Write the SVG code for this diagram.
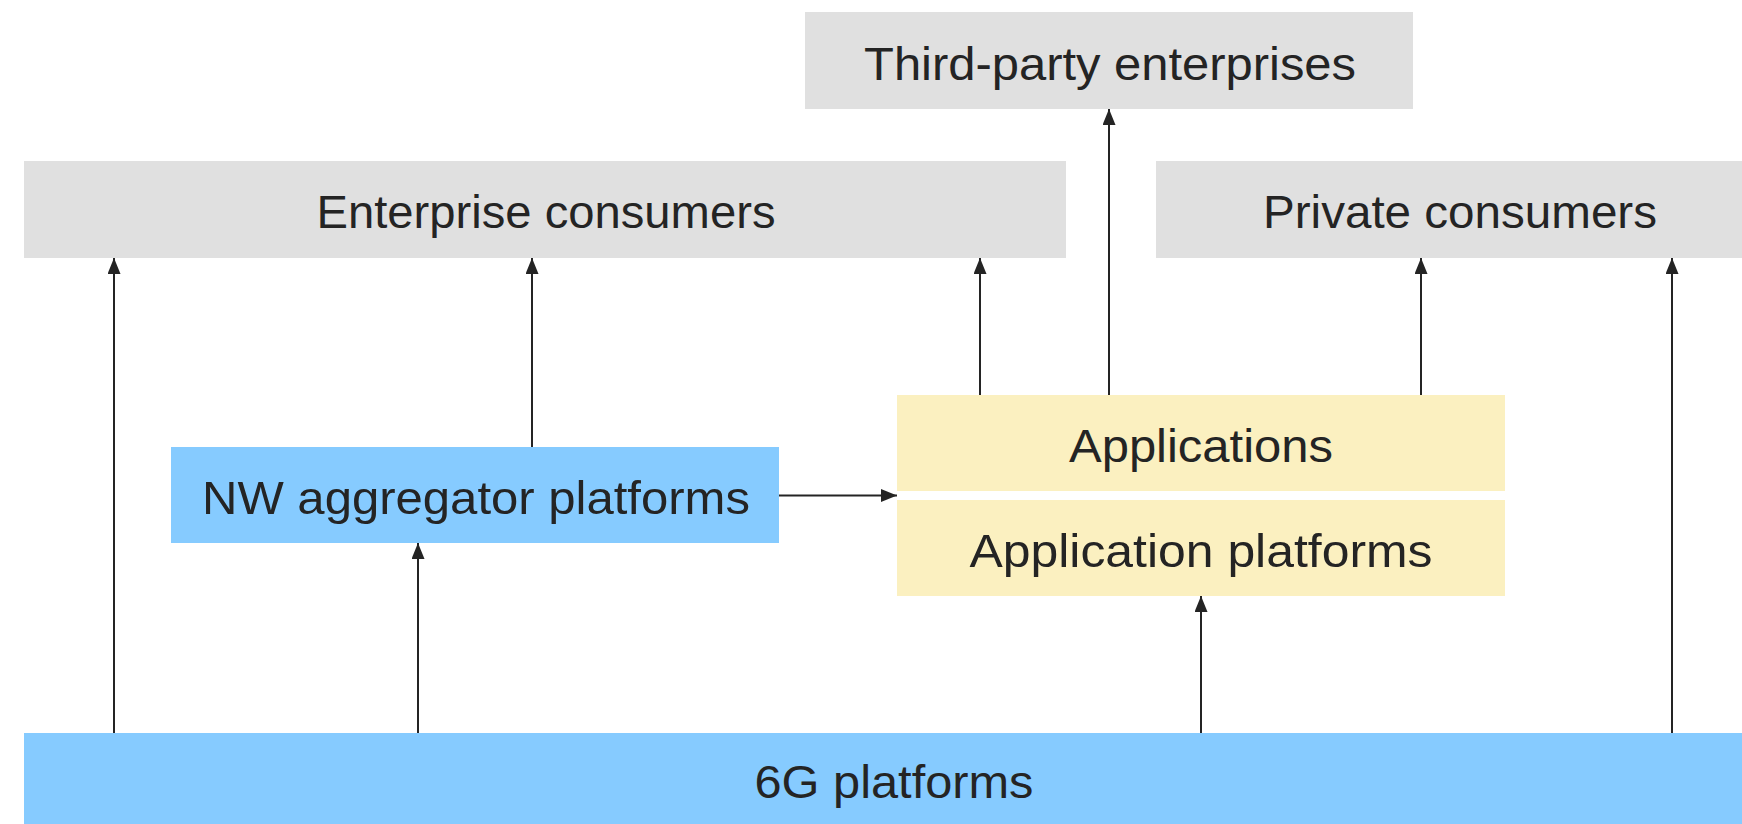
<svg xmlns="http://www.w3.org/2000/svg" width="1742" height="824" viewBox="0 0 1742 824">
  <style>
    .gray { fill: #e0e0e0; }
    .blue { fill: #86cbff; }
    .yellow { fill: #fbf0c0; }
    .lbl { font-family: "Liberation Sans", Arial, sans-serif; font-size: 47px; fill: #242424; text-anchor: middle; }
    .conn { stroke: #242424; stroke-width: 2; fill: none; marker-end: url(#arrow); }
  </style>
  <defs>
    <marker id="arrow" markerUnits="userSpaceOnUse" markerWidth="16" markerHeight="13" viewBox="0 0 16 13" refX="16" refY="6.5" orient="auto">
      <path d="M0,0 L16,6.5 L0,13 z" fill="#242424"/>
    </marker>
  </defs>
  <rect width="1742" height="824" fill="#ffffff"/>

  <g id="third-party">
    <rect class="gray" x="805" y="12" width="608" height="97"/>
    <text class="lbl" x="1110" y="80" textLength="492" lengthAdjust="spacingAndGlyphs">Third-party enterprises</text>
  </g>
  <g id="enterprise-consumers">
    <rect class="gray" x="24" y="161" width="1042" height="97"/>
    <text class="lbl" x="546" y="228" textLength="459" lengthAdjust="spacingAndGlyphs">Enterprise consumers</text>
  </g>
  <g id="private-consumers">
    <rect class="gray" x="1156" y="161" width="608" height="97"/>
    <text class="lbl" x="1460" y="228" textLength="394" lengthAdjust="spacingAndGlyphs">Private consumers</text>
  </g>
  <g id="nw-aggregator">
    <rect class="blue" x="171" y="447" width="608" height="96"/>
    <text class="lbl" x="476" y="514" textLength="548" lengthAdjust="spacingAndGlyphs">NW aggregator platforms</text>
  </g>
  <g id="applications">
    <rect class="yellow" x="897" y="395" width="608" height="96"/>
    <text class="lbl" x="1201" y="462" textLength="264" lengthAdjust="spacingAndGlyphs">Applications</text>
  </g>
  <g id="application-platforms">
    <rect class="yellow" x="897" y="500" width="608" height="96"/>
    <text class="lbl" x="1201" y="567" textLength="463" lengthAdjust="spacingAndGlyphs">Application platforms</text>
  </g>
  <g id="platforms-6g">
    <rect class="blue" x="24" y="733" width="1740" height="97"/>
    <text class="lbl" x="894" y="798" textLength="279" lengthAdjust="spacingAndGlyphs">6G platforms</text>
  </g>

  <g id="connectors">
    <line class="conn" x1="114" y1="733" x2="114" y2="258"/>
    <line class="conn" x1="418" y1="733" x2="418" y2="543"/>
    <line class="conn" x1="532" y1="447" x2="532" y2="258"/>
    <line class="conn" x1="980" y1="395" x2="980" y2="258"/>
    <line class="conn" x1="1109" y1="395" x2="1109" y2="109"/>
    <line class="conn" x1="1421" y1="395" x2="1421" y2="258"/>
    <line class="conn" x1="1201" y1="733" x2="1201" y2="596"/>
    <line class="conn" x1="1672" y1="733" x2="1672" y2="258"/>
    <line class="conn" x1="779" y1="495.5" x2="897" y2="495.5"/>
  </g>
</svg>
